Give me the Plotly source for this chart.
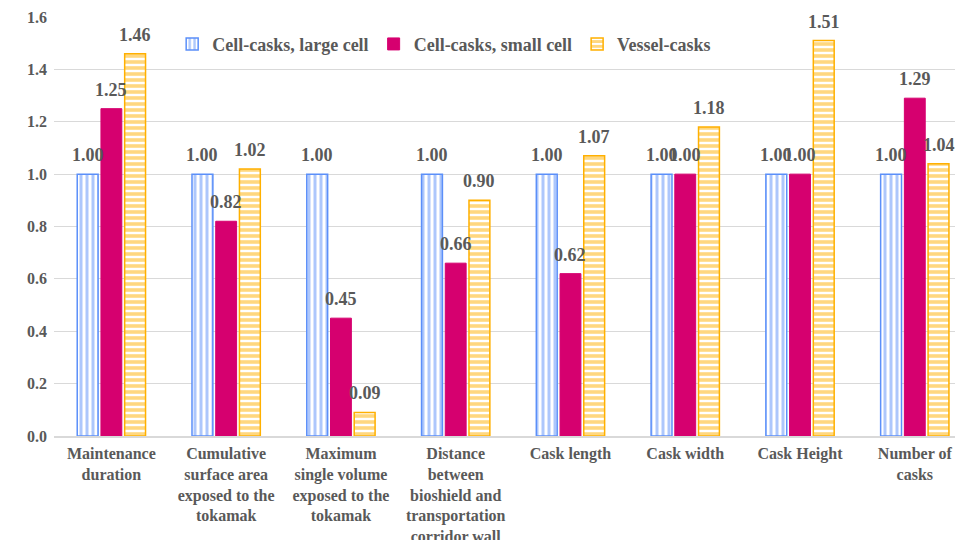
import plotly.graph_objects as go

categories = [
    "Maintenance<br>duration",
    "Cumulative<br>surface area<br>exposed to the<br>tokamak",
    "Maximum<br>single volume<br>exposed to the<br>tokamak",
    "Distance<br>between<br>bioshield and<br>transportation<br>corridor wall",
    "Cask length",
    "Cask width",
    "Cask Height",
    "Number of<br>casks",
]
large_cell = [1.00, 1.00, 1.00, 1.00, 1.00, 1.00, 1.00, 1.00]
small_cell = [1.25, 0.82, 0.45, 0.66, 0.62, 1.00, 1.00, 1.29]
vessel = [1.46, 1.02, 0.09, 0.90, 1.07, 1.18, 1.51, 1.04]
y_ticks = [0.0, 0.2, 0.4, 0.6, 0.8, 1.0, 1.2, 1.4, 1.6]

FONT = "Liberation Serif"
GRAY = "#595959"
BLUE = "#5B8FF9"
MAG = "#D6006F"
ORANGE = "#FFB000"

W, H = 955, 532
L, R, T, B = 46, 0, 9, 104
X_RANGE = [-0.5, 7.42]
BARGAP = 0.38

fig = go.Figure()
fig.add_trace(go.Bar(
    name="<b>Cell-casks, large cell</b>", x=categories, y=large_cell,
    marker=dict(color="white", line=dict(color=BLUE, width=1.5),
                pattern=dict(shape="|", fgcolor=BLUE, bgcolor="white", size=6, solidity=0.5)),
))
fig.add_trace(go.Bar(
    name="<b>Cell-casks, small cell</b>", x=categories, y=small_cell,
    marker=dict(color=MAG, line=dict(color=MAG, width=1)),
))
fig.add_trace(go.Bar(
    name="<b>Vessel-casks</b>", x=categories, y=vessel,
    marker=dict(color="white", line=dict(color=ORANGE, width=1.5),
                pattern=dict(shape="-", fgcolor=ORANGE, bgcolor="white", size=6, solidity=0.6)),
))

# data labels above the bars (slot offset within each group, in pixels)
cat_px = (W - L - R) / (X_RANGE[1] - X_RANGE[0])
slot = cat_px * (1 - BARGAP) / 3
for k, series in enumerate([large_cell, small_cell, vessel]):
    for c, v in zip(categories, series):
        fig.add_annotation(x=c, y=v, text=f"<b>{v:.2f}</b>", showarrow=False,
                           xshift=(k - 1) * slot, yshift=7, yanchor="bottom",
                           font=dict(family=FONT, size=18, color=GRAY))

fig.update_layout(
    width=W, height=H,
    margin=dict(l=L, r=R, t=T, b=B),
    plot_bgcolor="white", paper_bgcolor="white",
    barmode="group", bargap=BARGAP, bargroupgap=0.12,
    font=dict(family=FONT, color=GRAY, size=16),
    legend=dict(orientation="h", x=0.13, y=0.935, xanchor="left", yanchor="middle",
                font=dict(family=FONT, size=18, color=GRAY), bgcolor="rgba(0,0,0,0)",
                tracegroupgap=0),
    showlegend=True,
)
fig.update_yaxes(range=[0, 1.6], tickvals=y_ticks, ticktext=[f"<b>{v:.1f}</b>" for v in y_ticks],
                 showgrid=True, gridcolor="#D9D9D9", gridwidth=1, zeroline=False,
                 tickfont=dict(family=FONT, size=16, color=GRAY), ticks="", ticklen=0,
                 ticklabelstandoff=6, automargin=False)
fig.update_xaxes(range=X_RANGE, tickvals=categories, ticktext=[f"<b>{c}</b>" for c in categories],
                 showline=True, linecolor="#D9D9D9", linewidth=1.5,
                 tickfont=dict(family=FONT, size=16, color=GRAY), tickangle=0,
                 ticklabelstandoff=2, automargin=False)

fig.write_html("out.html")
